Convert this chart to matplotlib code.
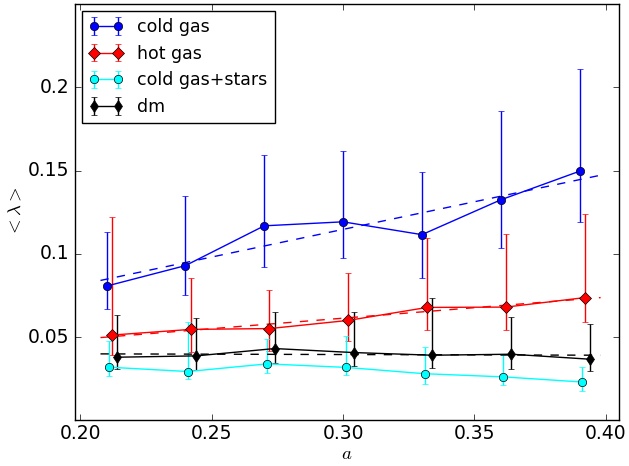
import numpy as np
import matplotlib
matplotlib.use('Agg')
import matplotlib.pyplot as plt

plt.style.use('classic')  # old matplotlib look: ticks inside, 2 legend points
plt.rcParams['font.size'] = 13.5
plt.rcParams['xtick.major.pad'] = 3

# expansion factor a (base positions, series are nudged a bit so bars don't overlap)
a_vals = np.array([0.21, 0.24, 0.27, 0.30, 0.33, 0.36, 0.39])

# cold gas
cold_mean = np.array([0.0806, 0.0929, 0.1168, 0.1192, 0.1115, 0.1324, 0.1496])
cold_hi = np.array([0.1128, 0.1346, 0.1593, 0.1620, 0.1490, 0.1858, 0.2111])
cold_lo = np.array([0.0668, 0.0755, 0.0923, 0.0974, 0.0855, 0.1033, 0.1192])

# hot gas
hot_mean = np.array([0.0512, 0.0546, 0.0551, 0.0600, 0.0678, 0.0680, 0.0737])
hot_hi = np.array([0.1223, 0.0856, 0.0780, 0.0882, 0.1093, 0.1119, 0.1237])
hot_lo = np.array([0.0395, 0.0413, 0.0414, 0.0475, 0.0542, 0.0542, 0.0592])

# cold gas + stars
cgs_mean = np.array([0.0319, 0.0293, 0.0339, 0.0318, 0.0280, 0.0261, 0.0230])
cgs_hi = np.array([0.0477, 0.0590, 0.0490, 0.0505, 0.0442, 0.0391, 0.0322])
cgs_lo = np.array([0.0267, 0.0248, 0.0283, 0.0272, 0.0218, 0.0215, 0.0175])

# dark matter
dm_mean = np.array([0.0379, 0.0387, 0.0431, 0.0407, 0.0391, 0.0397, 0.0367])
dm_hi = np.array([0.0635, 0.0614, 0.0652, 0.0648, 0.0737, 0.0618, 0.0579])
dm_lo = np.array([0.0308, 0.0302, 0.0347, 0.0327, 0.0312, 0.0308, 0.0296])

# linear fits (dashed), end points
fit_a = np.array([0.2077, 0.398])
cold_fit = np.array([0.0840, 0.1472])
hot_fit = np.array([0.0497, 0.0737])
dm_fit = np.array([0.0399, 0.0391])

fig = plt.figure(figsize=(6.29, 4.66), dpi=100, facecolor='white')
ax = fig.add_subplot(111)
plt.subplots_adjust(left=0.1192, right=0.9841, top=0.9914, bottom=0.098)

def err(mean, lo, hi):
    return [mean - lo, hi - mean]

ax.errorbar(a_vals, cold_mean, yerr=err(cold_mean, cold_lo, cold_hi), fmt='o-',
            color='b', ecolor='b', mec='k', ms=6, capsize=2.5, label='cold gas')
ax.errorbar(a_vals + 0.002, hot_mean, yerr=err(hot_mean, hot_lo, hot_hi), fmt='D-',
            color='r', ecolor='r', mec='k', ms=6, capsize=2.5, label='hot gas')
ax.errorbar(a_vals + 0.001, cgs_mean, yerr=err(cgs_mean, cgs_lo, cgs_hi), fmt='o-',
            color='#00ffff', ecolor='#00ffff', mec='k', ms=6, capsize=2.5,
            label='cold gas+stars')
ax.errorbar(a_vals + 0.004, dm_mean, yerr=err(dm_mean, dm_lo, dm_hi), fmt='d-',
            color='k', ecolor='k', mec='k', ms=6, capsize=2.5, label='dm')

ax.plot(fit_a, cold_fit, 'b--')
ax.plot(fit_a, hot_fit, 'r--')
ax.plot(fit_a, dm_fit, 'k--')

ax.set_xlim(0.198, 0.405)
ax.set_ylim(0.0, 0.25)
ax.set_xticks([0.20, 0.25, 0.30, 0.35, 0.40])
ax.set_xticklabels(['0.20', '0.25', '0.30', '0.35', '0.40'])
ax.set_yticks([0.05, 0.1, 0.15, 0.2])
ax.set_yticklabels(['0.05', '0.1', '0.15', '0.2'])

ax.set_xlabel(r'$a$')
ax.xaxis.set_label_coords(0.5, -0.058)
ax.set_ylabel(r'$<\lambda>$')
ax.yaxis.set_label_coords(-0.092, 0.5)

ax.legend(loc='upper left', numpoints=2, fontsize=12.5, handlelength=2.0,
          borderaxespad=0.4)

fig.savefig('out.png', dpi=100, facecolor='white')
